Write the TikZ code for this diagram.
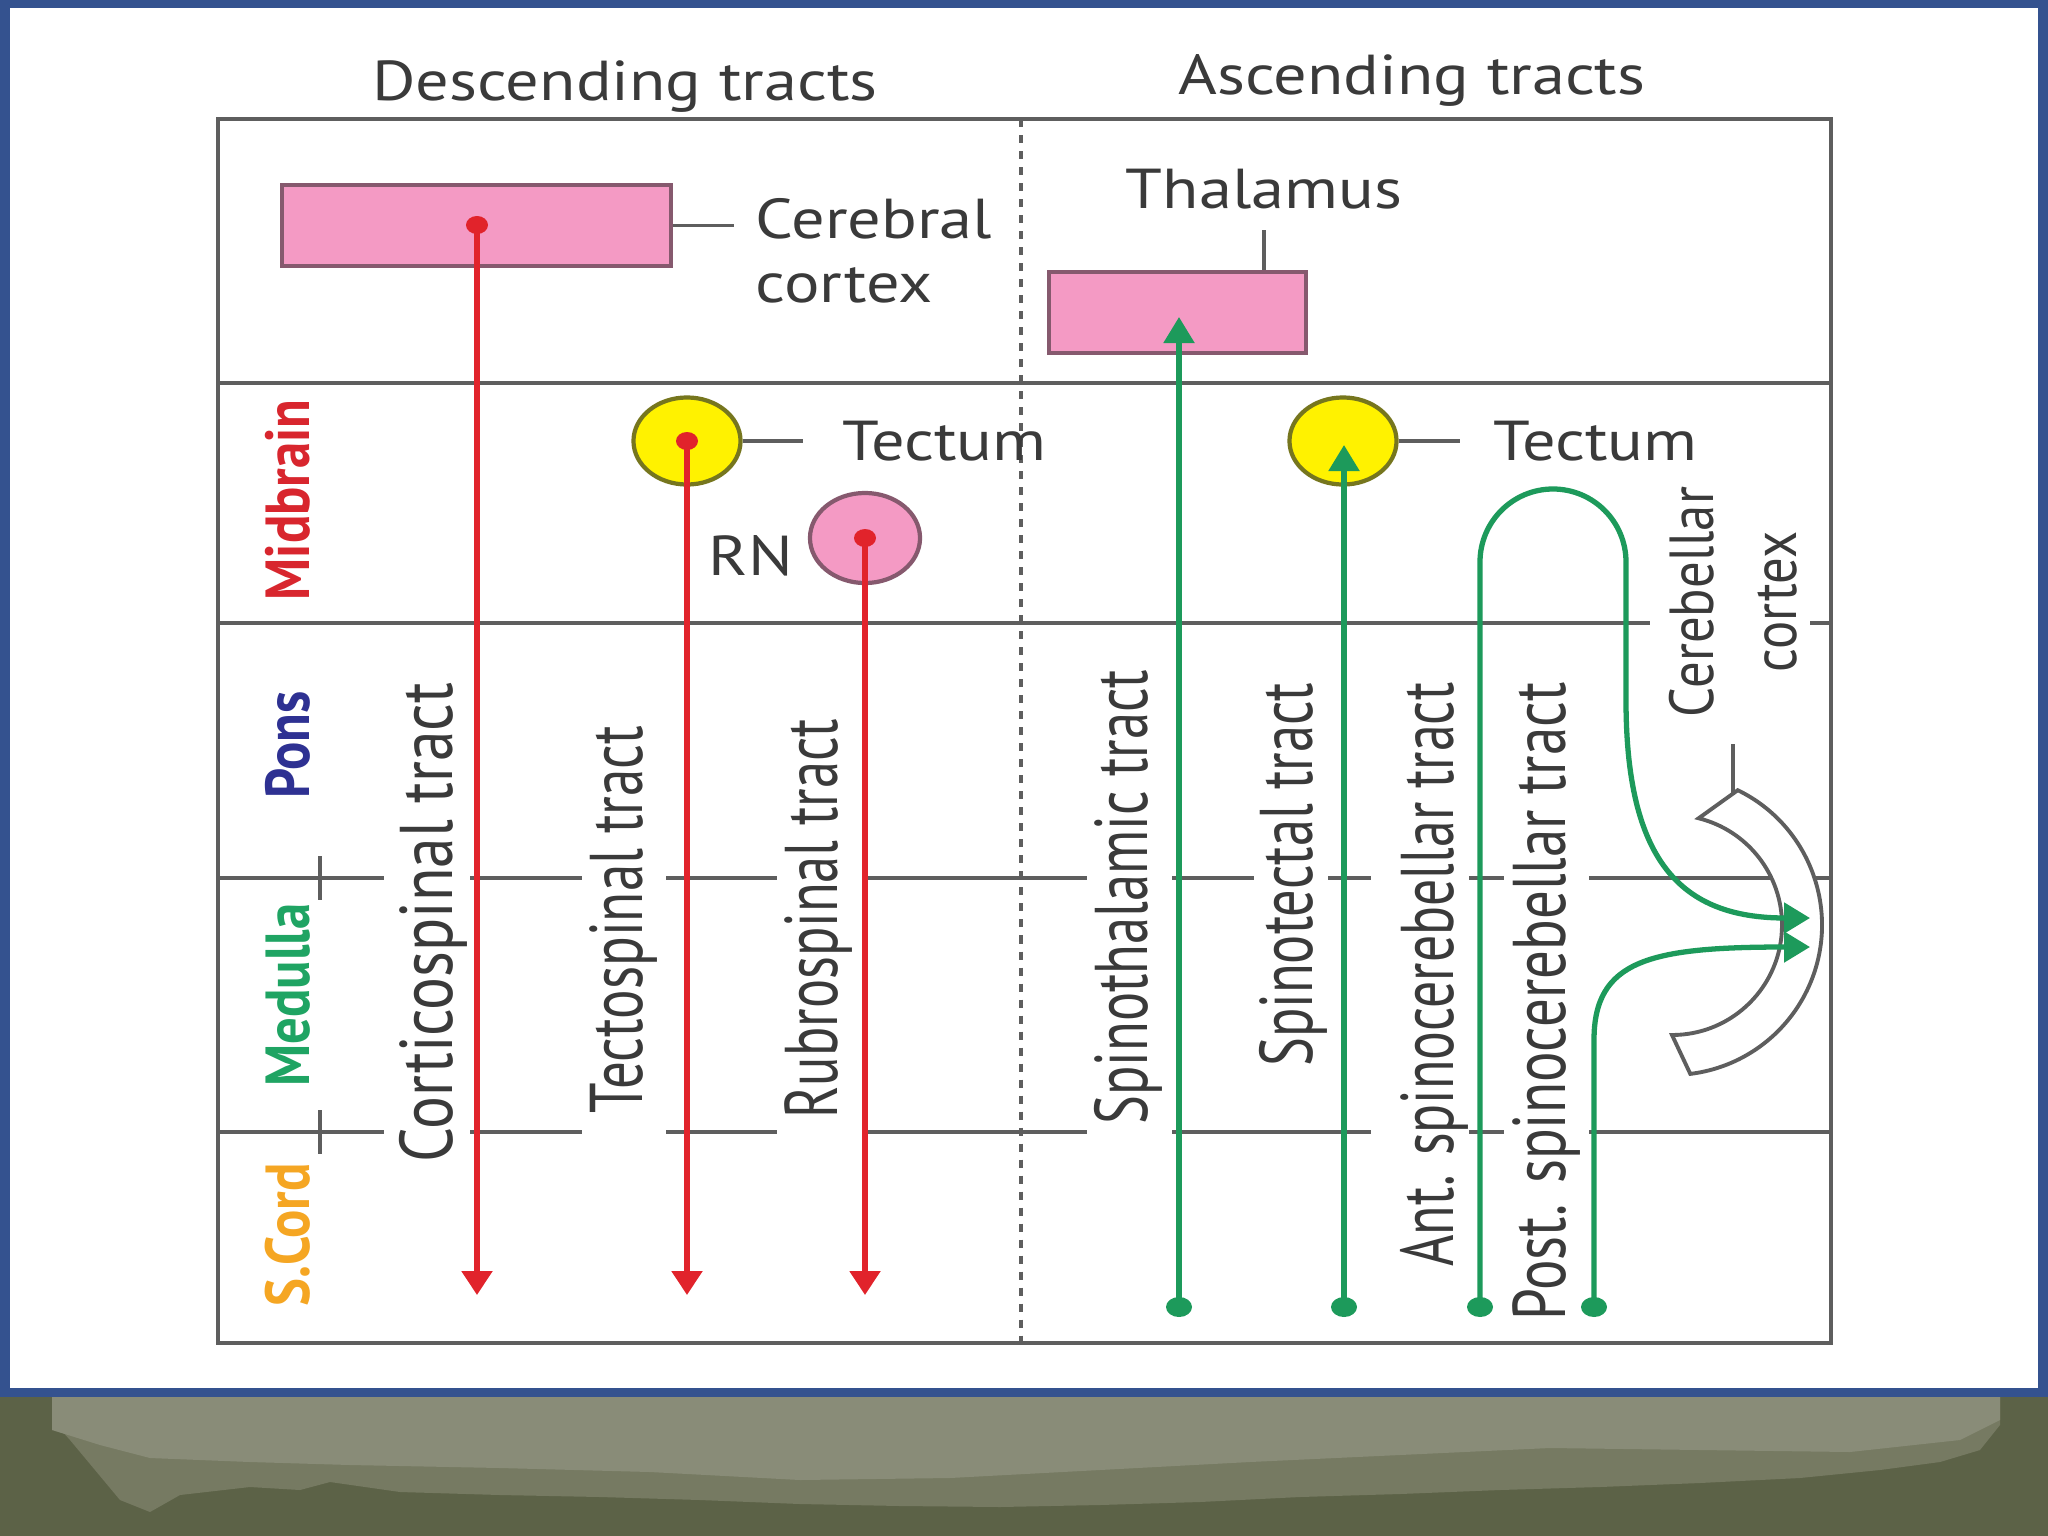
\documentclass[tikz,border=0pt]{standalone}
\usepackage{fontspec}
\setmainfont{PT Sans}
\usetikzlibrary{arrows.meta,shapes.geometric}
\definecolor{frameblue}{HTML}{34528F}
\definecolor{olivelight}{HTML}{898C78}
\definecolor{olivemid}{HTML}{767A62}
\definecolor{olivedark}{HTML}{5C6247}
\definecolor{gridgray}{HTML}{5E5E5E}
\definecolor{txtgray}{HTML}{3A3A3A}
\definecolor{pinkfill}{HTML}{F49AC4}
\definecolor{pinkedge}{HTML}{86596E}
\definecolor{yelfill}{HTML}{FFF200}
\definecolor{yeledge}{HTML}{76761E}
\definecolor{tractred}{HTML}{E1232B}
\definecolor{tractgreen}{HTML}{1D9A5B}
\definecolor{midred}{HTML}{D8262E}
\definecolor{ponsblue}{HTML}{2E3192}
\definecolor{medgreen}{HTML}{1FA463}
\definecolor{cordorange}{HTML}{F5A623}
\begin{document}
\begin{tikzpicture}[x=0.01cm,y=-0.01cm,
  gridline/.style={draw=gridgray,line width=1.1pt},
  leader/.style={draw=gridgray,line width=1.1pt},
  lbl/.style={font=\fontsize{16}{18.2}\selectfont,text=txtgray,inner sep=0pt,xscale=1.18},
  tractlbl/.style={font=\fontsize{18}{21}\selectfont,text=txtgray,inner sep=0pt,rotate=90,yscale=1.18,anchor=base east},
  rowlbl/.style={font=\bfseries\fontsize{15}{18}\selectfont,inner sep=0pt,rotate=90,yscale=1.18,anchor=base},
  pinkbox/.style={draw=pinkedge,fill=pinkfill,line width=1.2pt,inner sep=0pt},
  nucleus/.style={ellipse,line width=1.2pt,inner sep=0pt,minimum width=1.07cm,minimum height=0.87cm},
  reddot/.style={ellipse,fill=tractred,inner sep=0pt,minimum width=0.22cm,minimum height=0.18cm},
  greendot/.style={ellipse,fill=tractgreen,inner sep=0pt,minimum width=0.26cm,minimum height=0.2cm},
  desc/.style={draw=tractred,line width=1.5pt,-{Triangle[width=0.3cm,length=0.24cm]}},
  asc/.style={draw=tractgreen,line width=1.5pt,-{Triangle[width=0.3cm,length=0.26cm]}},
]
\useasboundingbox (0,0) rectangle (2048,1536);
% background
\fill[olivedark] (0,1390) rectangle (2048,1536);
\fill[olivemid] (52,1395) -- (2000,1395) -- (2000,1425) -- (1980,1450) -- (1940,1462) -- (1880,1470) -- (1800,1478) -- (1700,1483) -- (1600,1487) -- (1500,1490) -- (1400,1494) -- (1300,1497) -- (1200,1502) -- (1100,1505) -- (1000,1507) -- (900,1506) -- (800,1504) -- (700,1500) -- (600,1497) -- (500,1495) -- (400,1492) -- (330,1482) -- (300,1490) -- (250,1487) -- (180,1495) -- (150,1512) -- (120,1500) -- (95,1470) -- (70,1440) -- (52,1420) -- cycle;
\fill[olivelight] (52,1395) -- (2000,1395) -- (2000,1420) -- (1960,1440) -- (1850,1452) -- (1700,1450) -- (1550,1448) -- (1400,1455) -- (1250,1462) -- (1100,1470) -- (950,1478) -- (800,1480) -- (650,1472) -- (500,1468) -- (350,1465) -- (250,1462) -- (150,1458) -- (100,1445) -- (52,1430) -- cycle;
\fill[frameblue] (0,0) rectangle (2048,1397);
\fill[white] (10,8) rectangle (2038,1388);
% table
\draw[gridline,line width=1.3pt] (218,119) rectangle (1831,1343);
\draw[gridline] (218,383) -- (1831,383);
\draw[gridline] (218,623) -- (1650,623) (1810,623) -- (1831,623);
\foreach \a/\b in {218/384,470/582,666/777,868/1087,1172/1254,1328/1371,1469/1504,1589/1831}
  \draw[gridline] (\a,878) -- (\b,878);
\foreach \a/\b in {218/384,470/582,666/777,868/1087,1172/1371,1469/1504,1589/1831}
  \draw[gridline] (\a,1132) -- (\b,1132);
\draw[gridline] (320,856) -- (320,900) (320,1110) -- (320,1154);
\draw[draw=gridgray,line width=1.1pt,dash pattern=on 0.08cm off 0.08cm] (1021,119) -- (1021,1343);
% headers
\node[lbl,anchor=base] (hdesc) at (625,100) {Descending tracts};
\node[lbl,anchor=base] (hasc) at (1412,94) {Ascending tracts};
% row labels
\node[rowlbl,text=midred] (rmid) at (309,500) {Midbrain};
\node[rowlbl,text=ponsblue] (rpons) at (309,745) {Pons};
\node[rowlbl,text=medgreen] (rmed) at (309,995) {Medulla};
\node[rowlbl,text=cordorange] (rcord) at (309,1235) {S.Cord};
% structures
\node[pinkbox,minimum width=3.89cm,minimum height=0.81cm] (cortexbox) at (476.5,225.5) {};
\node[lbl,anchor=west,align=left] (cerebral) at (755,251) {Cerebral\\cortex};
\draw[leader,shorten >=0.21cm] (cortexbox.east) -- (cerebral.west |- cortexbox.east);
\node[pinkbox,minimum width=2.57cm,minimum height=0.81cm] (thalbox) at (1177.5,312.5) {};
\node[lbl] (thallbl) at (1264,189) {Thalamus};
\draw[leader,shorten >=0.2cm] (thallbl.south |- thalbox.north) -- (thallbl.south);
\node[nucleus,draw=yeledge,fill=yelfill] (tectL) at (687,441) {};
\node[lbl,anchor=west] (tectLlbl) at (842,441) {Tectum};
\draw[leader,shorten >=0.39cm] (tectL.east) -- (tectLlbl.west);
\node[nucleus,draw=pinkedge,fill=pinkfill,minimum width=1.1cm,minimum height=0.9cm] (rn) at (865,538) {};
\node[lbl] (rnlbl) at (751,556) {RN};
\node[nucleus,draw=yeledge,fill=yelfill] (tectR) at (1343,441) {};
\node[lbl,anchor=west] (tectRlbl) at (1493,441) {Tectum};
\draw[leader,shorten >=0.33cm] (tectR.east) -- (tectRlbl.west);
% cerebellar cortex
\draw[draw=gridgray,line width=1.1pt,fill=white,shift={(1672,925)}] (-64:150) arc(-64:83:150) -- (90:110) arc(90:-76:110) -- cycle;
\coordinate (cbtop) at (1733,795);
\coordinate (cbtick) at (1733,744);
\draw[leader] (cbtop) -- (cbtick);
\node[font=\fontsize{15}{20}\selectfont,text=txtgray,inner sep=0pt,rotate=90,yscale=1.18,align=center] (cblbl) at (1733,602) {Cerebellar\\cortex};
% tract labels
\node[tractlbl,xscale=0.97] (lcs) at (452,682) {Corticospinal tract};
\node[tractlbl,xscale=0.87] (lts) at (642,725) {Tectospinal tract};
\node[tractlbl,xscale=0.86] (lrs) at (837,718) {Rubrospinal tract};
\node[tractlbl,xscale=0.86] (lsth) at (1147,669) {Spinothalamic tract};
\node[tractlbl,xscale=0.86] (lstc) at (1312,682) {Spinotectal tract};
\node[tractlbl,xscale=0.85] (lant) at (1453,682) {Ant. spinocerebellar tract};
\node[tractlbl,xscale=0.9] (lpost) at (1565,682) {Post. spinocerebellar tract};
% descending tracts
\coordinate (cs0) at (477,225);
\coordinate (cs1) at (477,1295);
\coordinate (ts0) at (687,441);
\coordinate (ts1) at (687,1295);
\coordinate (rs0) at (865,538);
\coordinate (rs1) at (865,1295);
\draw[desc] (cs0) -- (cs1);
\draw[desc] (ts0) -- (ts1);
\draw[desc] (rs0) -- (rs1);
\node[reddot] (csdot) at (cs0) {};
\node[reddot] (tsdot) at (ts0) {};
\node[reddot] (rsdot) at (rs0) {};
% ascending tracts
\node[greendot] (sth0) at (1179,1307) {};
\node[greendot] (stc0) at (1344,1307) {};
\node[greendot] (ant0) at (1480,1307) {};
\node[greendot] (post0) at (1594,1307) {};
\coordinate (thalin) at (1179,317);
\coordinate (tectin) at (1344,445);
\coordinate (cbin1) at (1810,918);
\coordinate (cbin2) at (1810,947);
\draw[asc] (sth0.center) -- (thalin);
\draw[asc] (stc0.center) -- (tectin);
\draw[asc] (ant0.center) -- (1480,562) arc(180:360:73) -- (1626,700) .. controls (1626,860) and (1680,918) .. (cbin1);
\draw[asc] (post0.center) -- (1594,1040) .. controls (1594,960) and (1650,947) .. (cbin2);
\end{tikzpicture}
\end{document}
